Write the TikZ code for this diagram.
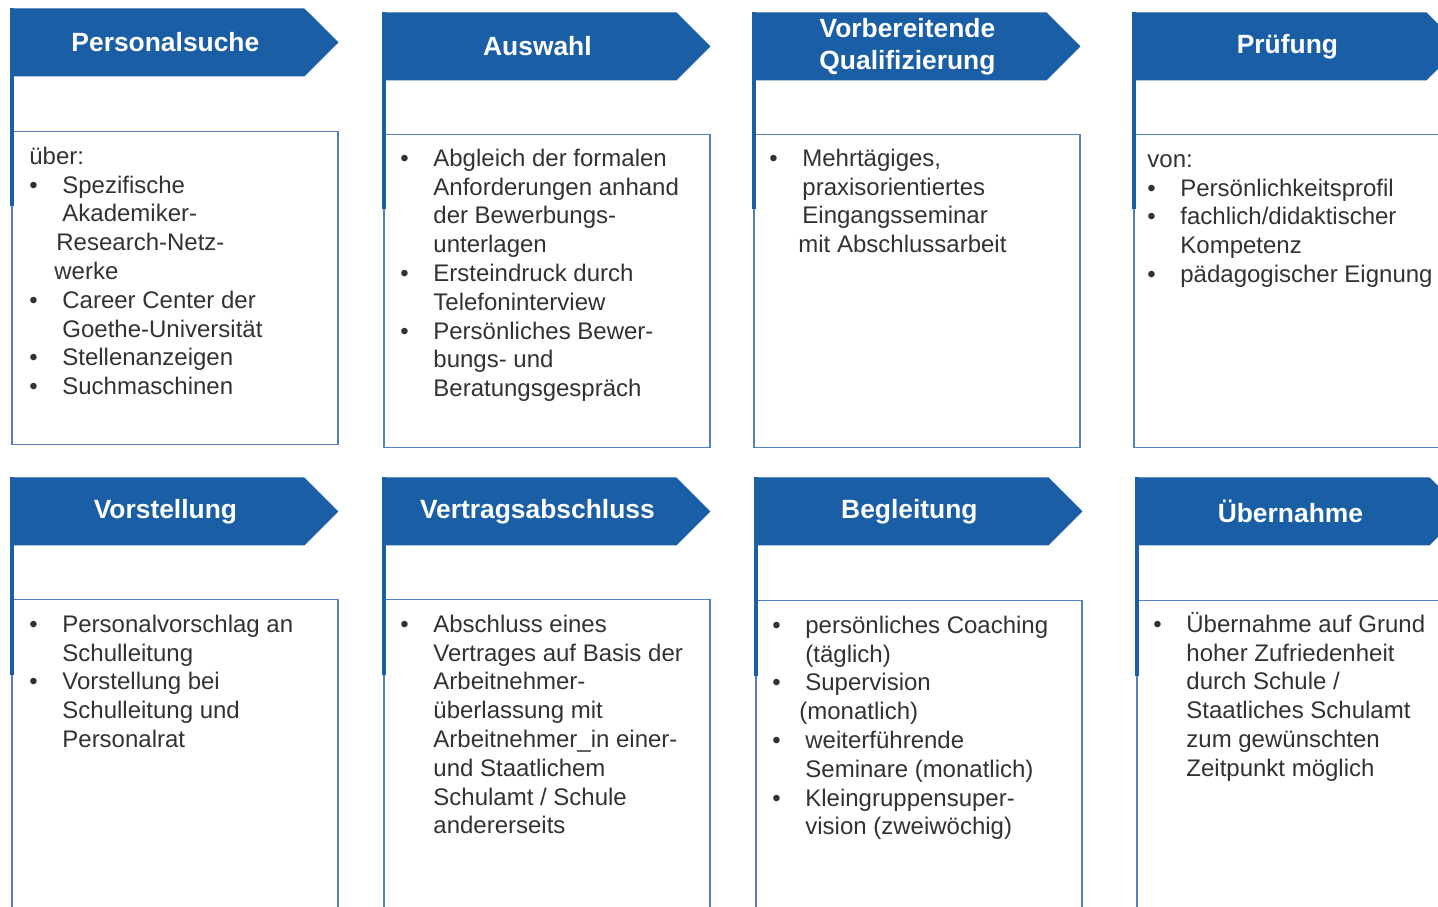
\documentclass[tikz,border=0pt]{standalone}
\usepackage{fontspec}
\setmainfont{Liberation Sans}
\usetikzlibrary{positioning}
\usetikzlibrary{shapes.symbols}

\definecolor{headBlue}{RGB}{26,94,165}
\definecolor{frameBlue}{RGB}{84,128,192}
\definecolor{bodyGray}{RGB}{50,50,50}

\newcommand{\itm}{\makebox[16.5pt][l]{\textbullet}}
\newcommand{\cont}{\hspace*{16.5pt}}
\newcommand{\headShift}{\hspace*{8pt}}

\begin{document}
\begin{tikzpicture}[x=0.5pt, y=-0.5pt]
    % Set styles
    \tikzset{
        headNode/.style={
                signal,
                signal to=east,
                signal pointer angle=90,
                fill=headBlue,
                text=white,
                minimum width=164pt,
                minimum height=34pt,
                inner sep=0pt,
                anchor=north west,
                align=center,
                execute at begin node=\headShift,
                font=\bfseries\fontsize{13.2}{16}\selectfont
            }
    }
    \tikzset{
        boxNode/.style={
                draw=frameBlue,
                line width=0.8pt,
                rectangle,
                minimum width=163pt,
                minimum height=156.5pt,
                inner sep=0pt
            }
    }
    \tikzset{
        longBoxNode/.style={
                boxNode,
                minimum height=200pt
            }
    }
    \tikzset{
        listNode/.style={
                inner sep=0pt,
                align=left,
                text=bodyGray,
                font=\fontsize{12}{14.4}\selectfont
            }
    }
    \tikzset{
        barLine/.style={
                draw=headBlue,
                line width=2.2pt
            }
    }
    \useasboundingbox (0,0) rectangle (1438,906);
    \clip (0,0) rectangle (1438,906);
    % Header arrows
    \node[headNode] (sucheHead) at (10,8) {Personalsuche};
    \node[headNode] (auswahlHead) at (382,12) {Auswahl};
    \node[headNode] (qualiHead) at (752,12) {Vorbereitende\\Qualifizierung};
    \node[headNode] (pruefHead) at (1132,12) {Prüfung};
    \node[headNode] (vorstHead) at (10,477) {Vorstellung};
    \node[headNode] (vertragHead) at (382,477) {Vertragsabschluss};
    \node[headNode] (beglHead) at (754,477) {Begleitung};
    \node[headNode] (uebernHead) at (1135,477) {Übernahme};
    % Content boxes
    \node[boxNode, below right = 27pt and 0.5pt of sucheHead.south west](sucheBox){};
    \node[boxNode, below right = 26.5pt and 0.5pt of auswahlHead.south west](auswahlBox){};
    \node[boxNode, below right = 26.5pt and 0.5pt of qualiHead.south west](qualiBox){};
    \node[boxNode, below right = 26.5pt and 0.5pt of pruefHead.south west](pruefBox){};
    \node[longBoxNode, below right = 26.5pt and 0.5pt of vorstHead.south west](vorstBox){};
    \node[longBoxNode, below right = 26.5pt and 0.5pt of vertragHead.south west](vertragBox){};
    \node[longBoxNode, below right = 27pt and 0.5pt of beglHead.south west](beglBox){};
    \node[longBoxNode, below right = 27pt and 0.5pt of uebernHead.south west](uebernBox){};
    % Bar ends
    \coordinate (sucheEnd) at ([xshift=0.6pt, yshift=-37.5pt]sucheBox.north west);
    \coordinate (auswahlEnd) at ([xshift=0.6pt, yshift=-37.5pt]auswahlBox.north west);
    \coordinate (qualiEnd) at ([xshift=0.6pt, yshift=-37.5pt]qualiBox.north west);
    \coordinate (pruefEnd) at ([xshift=0.6pt, yshift=-37.5pt]pruefBox.north west);
    \coordinate (vorstEnd) at ([xshift=0.6pt, yshift=-38pt]vorstBox.north west);
    \coordinate (vertragEnd) at ([xshift=0.6pt, yshift=-38pt]vertragBox.north west);
    \coordinate (beglEnd) at ([xshift=0.6pt, yshift=-38pt]beglBox.north west);
    \coordinate (uebernEnd) at ([xshift=0.6pt, yshift=-38pt]uebernBox.north west);
    % Draw bars
    \draw[barLine] ([xshift=1.1pt]sucheHead.north west) -- (sucheEnd);
    \draw[barLine] ([xshift=1.1pt]auswahlHead.north west) -- (auswahlEnd);
    \draw[barLine] ([xshift=1.1pt]qualiHead.north west) -- (qualiEnd);
    \draw[barLine] ([xshift=1.1pt]pruefHead.north west) -- (pruefEnd);
    \draw[barLine] ([xshift=1.1pt]vorstHead.north west) -- (vorstEnd);
    \draw[barLine] ([xshift=1.1pt]vertragHead.north west) -- (vertragEnd);
    \draw[barLine] ([xshift=1.1pt]beglHead.north west) -- (beglEnd);
    \draw[barLine] ([xshift=1.1pt]uebernHead.north west) -- (uebernEnd);
    % Box texts
    \node[listNode, below right = 6.5pt and 9pt of sucheBox.north west](sucheText){\strut über:\\
        \itm Spezifische\\
        \cont Akademiker-\\
        \hspace*{13.5pt}Research-Netz-\\
        \hspace*{12.5pt}werke\\
        \itm Career Center der\\
        \cont Goethe-Universität\\
        \itm Stellenanzeigen\\
        \itm Suchmaschinen};
    \node[listNode, below right = 6pt and 8.5pt of auswahlBox.north west](auswahlText){\strut\itm Abgleich der formalen\\
        \cont Anforderungen anhand\\
        \cont der Bewerbungs-\\
        \cont unterlagen\\
        \itm Ersteindruck durch\\
        \cont Telefoninterview\\
        \itm Persönliches Bewer-\\
        \cont bungs- und\\
        \cont Beratungsgespräch};
    \node[listNode, below right = 6pt and 8pt of qualiBox.north west](qualiText){\strut\itm Mehrtägiges,\\
        \cont praxisorientiertes\\
        \cont Eingangsseminar\\
        \hspace*{14.5pt}mit Abschlussarbeit};
    \node[listNode, below right = 6.5pt and 7pt of pruefBox.north west](pruefText){\strut von:\\
        \itm Persönlichkeitsprofil\\
        \itm fachlich/didaktischer\\
        \cont Kompetenz\\
        \itm pädagogischer Eignung};
    \node[listNode, below right = 6.5pt and 9pt of vorstBox.north west](vorstText){\strut\itm Personalvorschlag an\\
        \cont Schulleitung\\
        \itm Vorstellung bei\\
        \cont Schulleitung und\\
        \cont Personalrat};
    \node[listNode, below right = 6.5pt and 8.5pt of vertragBox.north west](vertragText){\strut\itm Abschluss eines\\
        \cont Vertrages auf Basis der\\
        \cont Arbeitnehmer-\\
        \cont überlassung mit\\
        \cont Arbeitnehmer\_in einer-\\
        \cont und Staatlichem\\
        \cont Schulamt / Schule\\
        \cont andererseits};
    \node[listNode, below right = 6.5pt and 8.5pt of beglBox.north west](beglText){\strut\itm persönliches Coaching\\
        \cont (täglich)\\
        \itm Supervision\\
        \hspace*{13.5pt}(monatlich)\\
        \itm weiterführende\\
        \cont Seminare (monatlich)\\
        \itm Kleingruppensuper-\\
        \cont vision (zweiwöchig)};
    \node[listNode, below right = 6pt and 8.5pt of uebernBox.north west](uebernText){\strut\itm Übernahme auf Grund\\
        \cont hoher Zufriedenheit\\
        \cont durch Schule /\\
        \cont Staatliches Schulamt\\
        \cont zum gewünschten\\
        \cont Zeitpunkt möglich};
\end{tikzpicture}
\end{document}
